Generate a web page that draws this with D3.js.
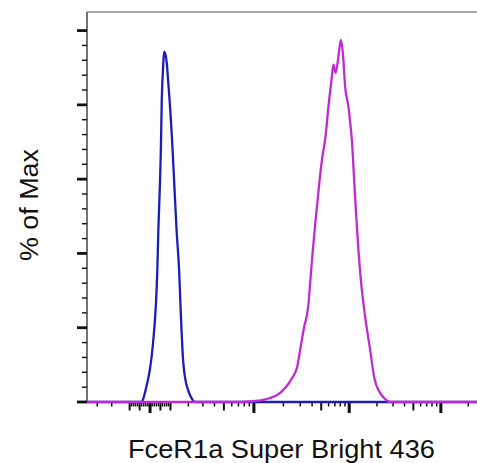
<!DOCTYPE html>
<html>
<head>
<meta charset="utf-8">
<script src="https://cdn.jsdelivr.net/npm/d3@7"></script>
<style>
  body { margin: 0; background: #fff; }
  svg { display: block; }
  text { font-family: "Liberation Sans", Arial, sans-serif; fill: #111; }
</style>
</head>
<body>
<div id="chart"></div>
<script>
// histogram readings (fluorescence value, % of max)
var blueX = [-387, -40, -28.7, -17, -7.2, 2.4, 9.6, 16.8, 24, 28.5, 34.9, 39.8, 48.1, 52, 56.4, 61.2, 69.1,
             81.1, 87.6, 94.3, 100.4, 108.2, 118.7, 132, 145.8, 156.9, 168.4, 180.2, 198.3, 216.9, 243.6, 262144];
var blueY = [0, 0, 1.6, 4.3, 6.7, 10, 13.2, 17.5, 22.6, 26.7, 35.6, 46.3, 59.8, 67.9, 81.3, 88.1, 94.3,
             91.3, 86.7, 82.1, 77.3, 70.6, 59.8, 46.3, 35.6, 22.1, 11.3, 6.5, 3.2, 1.3, 0, 0];

var magX = [-387, 727, 916, 1239, 1460, 1722, 2084, 2464, 2780, 2989, 3292, 3631, 3811, 4072, 4307, 4581, 4869,
            5178, 5507, 5975, 6498, 6761, 7140, 7689, 8122, 8536, 9042, 9809, 10230, 10678, 11310, 11885,
            12588, 13470, 14889, 16876, 18652, 21694, 24589, 27886, 262144];
var magY = [0, 0, 0.13, 0.54, 1.08, 1.89, 3.77, 6.46, 9.43, 14, 20.2, 25.6, 32, 40.9, 47.7, 54.4, 61.1,
            66.5, 70.6, 79.5, 87.5, 90.8, 88.6, 93.5, 97.5, 94, 84.8, 79.5, 75.4, 70.6, 59.8, 50.4,
            40.9, 32, 22.9, 14, 6.7, 2.4, 0.8, 0, 0];

var yTicks = d3.range(0, 101, 4);
var xLabel = "FceR1a Super Bright 436",
    yLabel = "% of Max";

var width = 477, height = 463;

// logicle (biexponential) transform, FlowJo style
var T = 262144, M = 4.5, W = 0.887;
var p = (function() {
  var lo = 1.0001, hi = 20;
  for (var i = 0; i < 60; i++) {
    var mid = (lo + hi) / 2;
    if (2 * mid * Math.log(mid) / (mid + 1) > W) hi = mid; else lo = mid;
  }
  return (lo + hi) / 2;
})();
var A = T * Math.pow(10, -(M - W));

function S(u) {
  var a = Math.abs(u);
  var s = A * (Math.pow(10, a) - p * p * Math.pow(10, -a / p) + p * p - 1);
  return u < 0 ? -s : s;
}
function L(v) {
  var lo = -M, hi = M + 1;
  for (var i = 0; i < 60; i++) {
    var mid = (lo + hi) / 2;
    if (S(mid) > v) hi = mid; else lo = mid;
  }
  return (lo + hi) / 2;
}

var xDisp = d3.scaleLinear()
    .domain([L(-387), L(262144)])
    .range([87, 479]);
function x(v) { return xDisp(L(v)); }

var y = d3.scaleLinear()
    .domain([0, 105])
    .range([402, 12]);

var svg = d3.select("#chart").append("svg")
    .attr("width", width)
    .attr("height", height);

// frame
svg.append("line")
    .attr("x1", 87).attr("x2", width + 5)
    .attr("y1", y(105)).attr("y2", y(105))
    .attr("stroke", "#555").attr("stroke-width", 1.2);
svg.append("line")
    .attr("x1", 87).attr("x2", 87)
    .attr("y1", y(105)).attr("y2", y(0))
    .attr("stroke", "#444").attr("stroke-width", 1.5);
svg.append("line")
    .attr("x1", 87).attr("x2", width + 5)
    .attr("y1", y(0)).attr("y2", y(0))
    .attr("stroke", "#333").attr("stroke-width", 1.5);

// y ticks
svg.append("g").selectAll("line")
    .data(yTicks)
  .enter().append("line")
    .attr("x1", function(d) { return d % 20 === 0 ? 77 : 82; })
    .attr("x2", 87)
    .attr("y1", function(d) { return y(d); })
    .attr("y2", function(d) { return y(d); })
    .attr("stroke", "#111")
    .attr("stroke-width", function(d) { return d % 20 === 0 ? 2.8 : 1.4; });

// x ticks: decades and their multiples, both sides of zero
var xTicks = [{v: 0, k: 2}];
[10, 100, 1000, 10000, 100000].forEach(function(dec) {
  for (var m = 1; m <= 9; m++) {
    var v = m * dec;
    if (v > 250000) break;
    var k = (m === 1 && dec >= 1000) ? 2 : (m === 5 || (m === 1 && dec === 100)) ? 1 : 0;
    xTicks.push({v: v, k: k});
    if (v <= 300) xTicks.push({v: -v, k: k});
  }
});

svg.append("g").selectAll("line")
    .data(xTicks)
  .enter().append("line")
    .attr("x1", function(d) { return x(d.v); })
    .attr("x2", function(d) { return x(d.v); })
    .attr("y1", y(0))
    .attr("y2", function(d) { return y(0) + [4.5, 8.5, 11][d.k]; })
    .attr("stroke", "#111")
    .attr("stroke-width", function(d) { return [1.5, 2, 3][d.k]; });

var line = d3.line()
    .x(function(d) { return x(d[0]); })
    .y(function(d) { return y(d[1]); })
    .curve(d3.curveMonotoneX);

svg.append("path")
    .datum(d3.zip(blueX, blueY))
    .attr("fill", "none")
    .attr("stroke", "#1c1cb6")
    .attr("stroke-width", 2.3)
    .attr("stroke-linejoin", "round")
    .attr("d", line);

svg.append("path")
    .datum(d3.zip(magX, magY))
    .attr("fill", "none")
    .attr("stroke", "#c02ad2")
    .attr("stroke-width", 2.3)
    .attr("stroke-linejoin", "round")
    .attr("d", line);

// labels
svg.append("text")
    .attr("x", 281.5)
    .attr("y", 458)
    .attr("text-anchor", "middle")
    .attr("font-size", 25)
    .attr("textLength", 307)
    .attr("lengthAdjust", "spacingAndGlyphs")
    .text(xLabel);

svg.append("text")
    .attr("transform", "translate(38,205)rotate(-90)")
    .attr("text-anchor", "middle")
    .attr("font-size", 25)
    .attr("textLength", 112)
    .attr("lengthAdjust", "spacingAndGlyphs")
    .text(yLabel);
</script>
</body>
</html>
